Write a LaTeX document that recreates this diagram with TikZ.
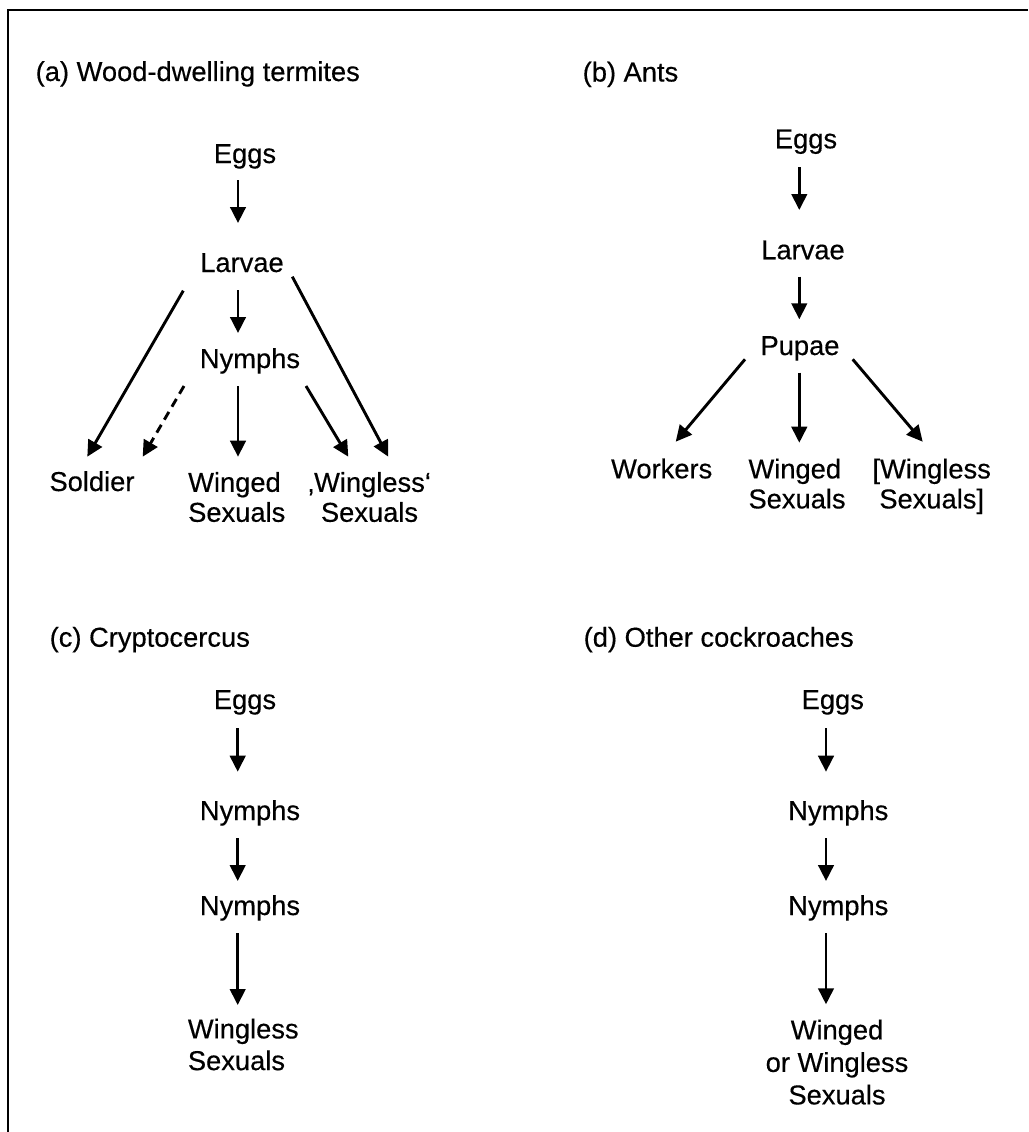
\documentclass[tikz,border=0pt]{standalone}
\usepackage{fontspec}
\setmainfont{Liberation Sans}[FakeBold=0.4]
\usetikzlibrary{arrows.meta}
\begin{document}
\begin{tikzpicture}[x=1pt,y=-1pt,
  lbl/.style={inner sep=0pt,font=\fontsize{27.3}{30}\selectfont},
  lblc/.style={inner sep=0pt,font=\fontsize{27.3}{31.7}\selectfont},
  lbld/.style={inner sep=0pt,font=\fontsize{27.3}{32.5}\selectfont},
  arr/.style={line width=2.9pt,-{Triangle[length=16pt,width=15.5pt]}},
  darr/.style={arr,dash pattern=on 9pt off 6pt},
  frame/.style={line width=2pt}]
\useasboundingbox (0,0) rectangle (1028,1132);
% open frame
\draw[frame] (1028,10) -- (7.5,10) -- (7.5,1132);

% (a) Wood-dwelling termites
\node[lbl,anchor=base west] (aTitle) at (35.5,81) {(a) Wood-dwelling termites};
\node[lbl,anchor=base] (aEggs) at (245,163) {Eggs};
\node[lbl,anchor=base] (aLarvae) at (242,272) {Larvae};
\node[lbl,anchor=base] (aNymphs) at (250,368) {Nymphs};
\node[lbl,anchor=base] (aSoldier) at (92,491) {Soldier};
\node[lbl,anchor=north west,align=left] (aWinged) at (188,471.8) {Winged\\Sexuals};
\node[lbl,anchor=north,align=center] (aWingless) at (369.5,471.8) {‚Wingless‘\\Sexuals};
\draw[arr] ([shift={(-7,17)}]aEggs.base) -- ([shift={(-4,-49)}]aLarvae.base);
\draw[arr] ([shift={(-4,18)}]aLarvae.base) -- ([shift={(-12,-35)}]aNymphs.base);
\draw[arr] ([shift={(-58.7,18.7)}]aLarvae.base) -- ([shift={(-4.7,-34.3)}]aSoldier.base);
\draw[darr] ([shift={(-66,18)}]aNymphs.base) -- ([shift={(50.7,-34.3)}]aSoldier.base);
\draw[arr] ([shift={(-12,18)}]aNymphs.base) -- ([shift={(50,-15.1)}]aWinged.north west);
\draw[arr] ([shift={(56,18)}]aNymphs.base) -- ([shift={(-21.2,-15.1)}]aWingless.north);
\draw[arr] ([shift={(50.3,4.7)}]aLarvae.base) -- ([shift={(18.8,-15.1)}]aWingless.north);

% (b) Ants
\node[lbl,anchor=base west] (bTitle) at (582.5,81.5) {(b) Ants};
\node[lbl,anchor=base] (bEggs) at (806,148.3) {Eggs};
\node[lbl,anchor=base] (bLarvae) at (803,259.3) {Larvae};
\node[lbl,anchor=base] (bPupae) at (800,355) {Pupae};
\node[lbl,anchor=base] (bWorkers) at (661.7,478.3) {Workers};
\node[lbl,anchor=north west,align=left] (bWinged) at (748.3,458.4) {Winged\\Sexuals};
\node[lbl,anchor=north,align=center] (bWingless) at (931.7,458.4) {[Wingless\\Sexuals]};
\draw[arr] ([shift={(-6.7,19)}]bEggs.base) -- ([shift={(-3.7,-49.3)}]bLarvae.base);
\draw[arr] ([shift={(-3.7,17.4)}]bLarvae.base) -- ([shift={(-0.7,-35.7)}]bPupae.base);
\draw[arr] ([shift={(-55,4.3)}]bPupae.base) -- ([shift={(14,-36.6)}]bWorkers.base);
\draw[arr] ([shift={(-0.7,17.7)}]bPupae.base) -- ([shift={(51,-15.7)}]bWinged.north west);
\draw[arr] ([shift={(52.7,4.3)}]bPupae.base) -- ([shift={(-9,-16.7)}]bWingless.north);

% (c) Cryptocercus
\node[lbl,anchor=base west] (cTitle) at (49.5,646.7) {(c) Cryptocercus};
\node[lbl,anchor=base] (cEggs) at (245,709) {Eggs};
\node[lbl,anchor=base] (cNymA) at (250,820) {Nymphs};
\node[lbl,anchor=base] (cNymB) at (250,915) {Nymphs};
\node[lblc,anchor=north west,align=left] (cWingless) at (187.7,1018.4) {Wingless\\Sexuals};
\draw[arr] ([shift={(-7.3,19.3)}]cEggs.base) -- ([shift={(-12.3,-48.3)}]cNymA.base);
\draw[arr] ([shift={(-12.3,18.3)}]cNymA.base) -- ([shift={(-12.3,-34)}]cNymB.base);
\draw[arr] ([shift={(-12.3,18.3)}]cNymB.base) -- ([shift={(50,-13.4)}]cWingless.north west);

% (d) Other cockroaches
\node[lbl,anchor=base west] (dTitle) at (583.5,646.7) {(d) Other cockroaches};
\node[lbl,anchor=base] (dEggs) at (832.8,709) {Eggs};
\node[lbl,anchor=base] (dNymA) at (838.3,820) {Nymphs};
\node[lbl,anchor=base] (dNymB) at (838.3,915) {Nymphs};
\node[lbld,anchor=north,align=center] (dWinged) at (837,1019.4) {Winged\\or Wingless\\Sexuals};
\draw[arr] ([shift={(-6.8,19.3)}]dEggs.base) -- ([shift={(-12.3,-48.3)}]dNymA.base);
\draw[arr] ([shift={(-12.3,18.3)}]dNymA.base) -- ([shift={(-12.3,-34)}]dNymB.base);
\draw[arr] ([shift={(-12.3,18.3)}]dNymB.base) -- ([shift={(-11,-15.1)}]dWinged.north);
\end{tikzpicture}
\end{document}
